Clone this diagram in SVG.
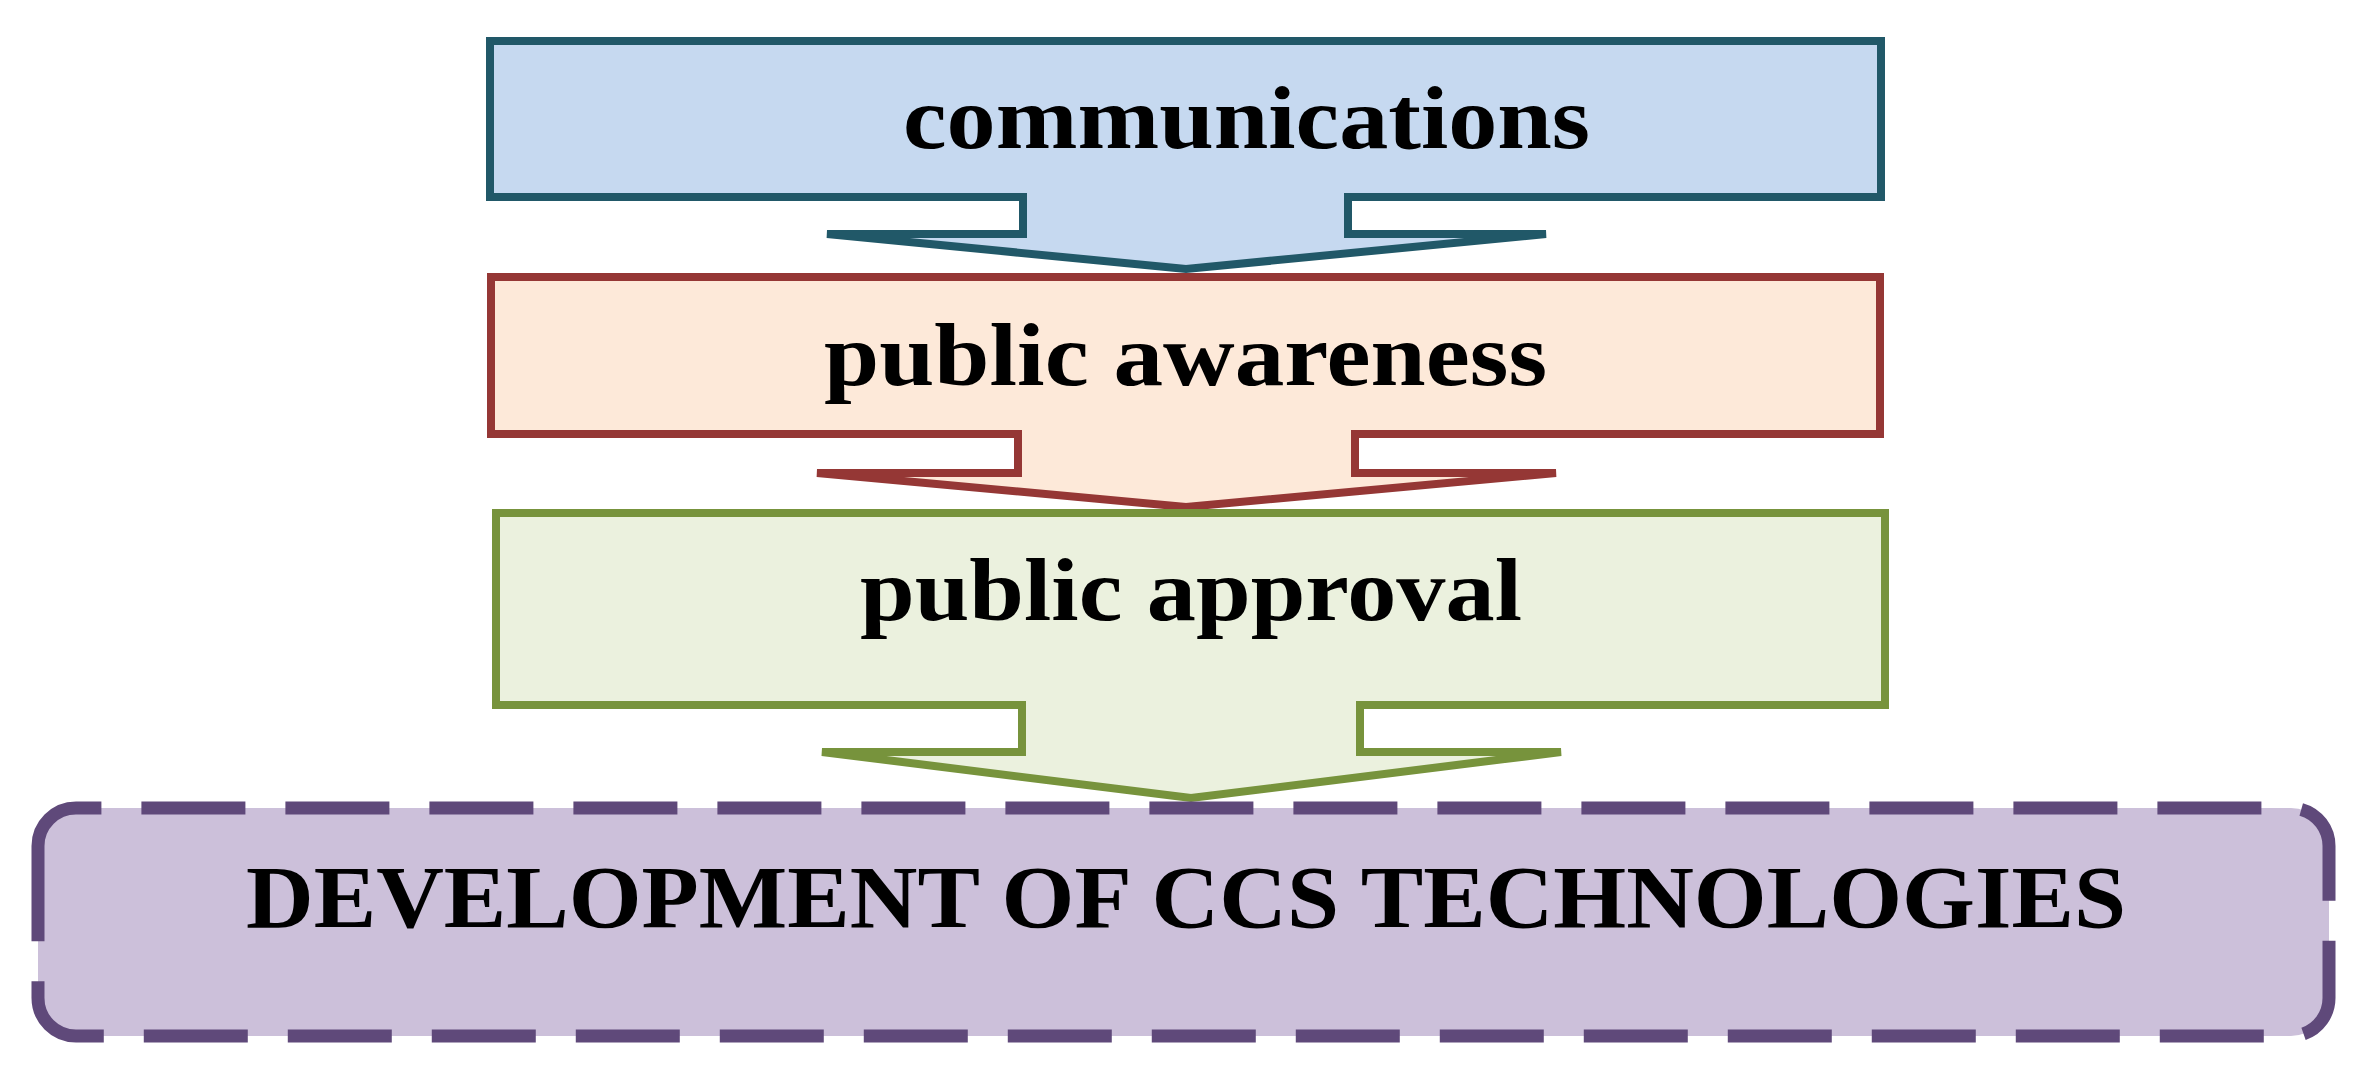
<svg xmlns="http://www.w3.org/2000/svg" width="2365" height="1073" viewBox="0 0 2365 1073">
<style>
  .lbl { font-family: "Liberation Serif", "Times New Roman", serif; font-weight: bold; font-size: 89px; fill: #000000; }
  .shape { stroke-width: 8; stroke-linejoin: miter; }
  .blue { fill: #C6D9F0; stroke: #215868; }
  .pink { fill: #FDE9D9; stroke: #953735; }
  .green { fill: #EBF1DE; stroke: #77933C; }
  .purple { fill: #CCC0DA; stroke: #5F497A; stroke-width: 13; stroke-dasharray: 104 40; }
</style>
<rect x="0" y="0" width="2365" height="1073" fill="#FFFFFF"/>
<g id="connectors"></g>
<g id="node-communications">
  <path class="shape blue" d="M490,41 H1881 V197 H1348 V234 H1546 L1186,269 L827,234 H1023 V197 H490 Z"/>
  <text class="lbl" x="903" y="148" textLength="687" lengthAdjust="spacingAndGlyphs">communications</text>
</g>
<g id="node-public-awareness">
  <path class="shape pink" d="M491,277 H1880 V434 H1355 V473 H1556 L1186,507 L817,473 H1018 V434 H491 Z"/>
  <text class="lbl" x="824" y="385" textLength="723" lengthAdjust="spacingAndGlyphs">public awareness</text>
</g>
<g id="node-public-approval">
  <path class="shape green" d="M496,513 H1885 V705 H1360 V752 H1561 L1191,798 L822,752 H1022 V705 H496 Z"/>
  <text class="lbl" x="860" y="620" textLength="662" lengthAdjust="spacingAndGlyphs">public approval</text>
</g>
<g id="node-development">
  <path class="purple" d="M38,865 V846 A38,38 0 0 1 76,808 H2291 A38,38 0 0 1 2329,846 V998 A38,38 0 0 1 2291,1036 H76 A38,38 0 0 1 38,998 Z"/>
  <text class="lbl" x="246" y="927" textLength="1880" lengthAdjust="spacingAndGlyphs">DEVELOPMENT OF CCS TECHNOLOGIES</text>
</g>
</svg>
